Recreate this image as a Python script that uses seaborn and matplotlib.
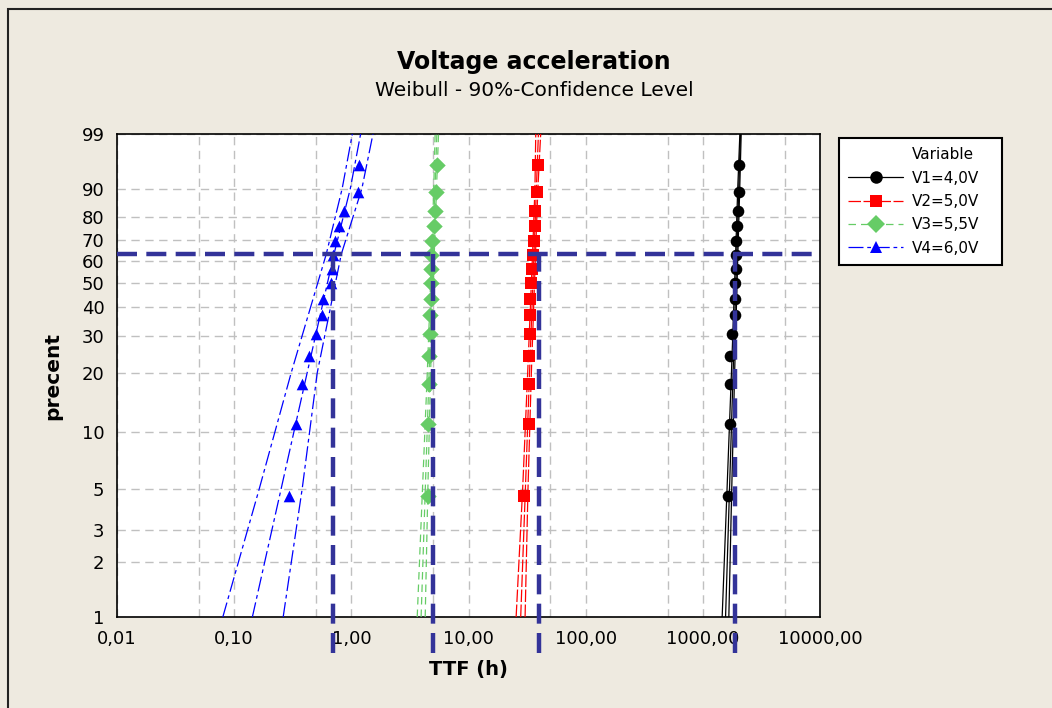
"""
Voltage acceleration - Weibull probability plot (90% confidence bands)
"""

import numpy as np
import matplotlib

matplotlib.use("Agg")
import matplotlib.pyplot as plt
import seaborn as sns
from matplotlib.lines import Line2D
from matplotlib.patches import Rectangle
from matplotlib.ticker import FixedLocator, FixedFormatter, NullLocator

# median ranks (percent) of the 15 failures per voltage
ranks = [4.55, 11.04, 17.53, 24.03, 30.52, 37.01, 43.51, 50.0,
         56.49, 62.99, 69.48, 75.97, 82.47, 88.96, 95.45]

# time to failure (h)
v1_ttf = [1643, 1699, 1705, 1712, 1757, 1874, 1893, 1900, 1907, 1915, 1922, 1961, 2007, 2027, 2047]
v2_ttf = [29.5, 32.9, 33.0, 33.1, 33.2, 33.4, 33.7, 34.3, 35.1, 35.2, 36.3, 36.7, 37.0, 38.1, 39.1]
v3_ttf = [4.49, 4.53, 4.61, 4.64, 4.67, 4.73, 4.75, 4.76, 4.78, 4.80, 4.85, 5.06, 5.21, 5.26, 5.40]
v4_ttf = [0.296, 0.337, 0.380, 0.438, 0.499, 0.561, 0.576, 0.665, 0.680, 0.693, 0.720, 0.785, 0.865, 1.13, 1.17]

# fitted line and 90% confidence bounds at these percent levels
band_pct = [1, 5, 20, 63.2, 90, 99]
v1_fit = [1563, 1690, 1813, 1948, 2027, 2096]
v1_lo = [1462, 1610, 1755, 1905, 1985, 2070]
v1_hi = [1667, 1765, 1868, 1990, 2065, 2125]
v2_fit = [27.9, 30.6, 33.2, 36.2, 37.96, 39.5]
v2_lo = [25.5, 29.0, 32.0, 35.2, 36.9, 37.5]
v2_hi = [30.4, 32.2, 34.4, 37.3, 39.1, 41.3]
v3_fit = [3.94, 4.28, 4.61, 4.97, 5.18, 5.37]
v3_lo = [3.65, 4.05, 4.45, 4.85, 5.05, 5.19]
v3_hi = [4.27, 4.50, 4.75, 5.10, 5.33, 5.55]
v4_fit = [0.143, 0.252, 0.42, 0.71, 0.98, 1.20]
v4_lo = [0.080, 0.164, 0.307, 0.61, 0.835, 1.02]
v4_hi = [0.262, 0.381, 0.512, 0.82, 1.23, 1.53]

# characteristic life markers (63.2 %)
ref_ttf = [1893, 39.6, 5.0, 0.70]
ref_pct = 63.2

labels = ["V1=4,0V", "V2=5,0V", "V3=5,5V", "V4=6,0V"]
colors = ["#000000", "#FF0000", "#66CC66", "#0000FF"]
markers = ["o", "s", "D", "^"]
styles = ["-", (0, (10, 2)), (0, (6, 4)), (0, (12, 3, 3, 3))]

x_ticks = [0.01, 0.1, 1, 10, 100, 1000, 10000]
x_labels = ["0,01", "0,10", "1,00", "10,00", "100,00", "1000,00", "10000,00"]
x_minor = [0.05, 0.5, 5, 50, 500, 5000]
y_ticks = [1, 2, 3, 5, 10, 20, 30, 40, 50, 60, 70, 80, 90, 99]
y_labels = [str(t) for t in y_ticks]


def weib(p):
    p = np.clip(np.asarray(p, dtype=float), 1e-9, 100 - 1e-9)
    return np.log(-np.log(1 - p / 100))


def weib_inv(y):
    return 100 * (1 - np.exp(-np.exp(np.asarray(y, dtype=float))))


def main():
    bg = "#EEEAE0"
    sns.set_style("white")
    plt.rcParams["font.family"] = ["DejaVu Sans"]
    plt.rcParams["text.color"] = "black"
    plt.rcParams["axes.labelcolor"] = "black"
    plt.rcParams["xtick.color"] = "black"
    plt.rcParams["ytick.color"] = "black"

    fig = plt.figure(figsize=(10.52, 7.08), dpi=100, facecolor=bg)
    ax = fig.add_axes([117 / 1052, 1 - 617 / 708, 703 / 1052, 483 / 708])
    ax.set_facecolor("white")

    series = [
        (v1_ttf, v1_fit, v1_lo, v1_hi),
        (v2_ttf, v2_fit, v2_lo, v2_hi),
        (v3_ttf, v3_fit, v3_lo, v3_hi),
        (v4_ttf, v4_fit, v4_lo, v4_hi),
    ]
    for (pts, fit, lo, hi), c, m, ls in zip(series, colors, markers, styles):
        for line in (lo, fit, hi):
            sns.lineplot(x=line, y=band_pct, sort=False, estimator=None,
                         color=c, linestyle=ls, linewidth=0.9, ax=ax, zorder=3)
        sns.scatterplot(x=pts, y=ranks, marker=m, s=70, color=c,
                        edgecolor=c, linewidth=0, ax=ax, zorder=4)

    ax.set_xscale("log")
    ax.set_yscale("function", functions=(weib, weib_inv))
    ax.set_xlim(0.01, 10000)
    ax.set_ylim(1, 99)

    # reference lines at the characteristic life
    ref_col = "#333399"
    ref_ls = (0, (4.5, 2.1))
    frac = (weib(ref_pct) - weib(1)) / (weib(99) - weib(1))
    ax.axhline(ref_pct, color=ref_col, lw=3.2, ls=ref_ls, zorder=6)
    for v in ref_ttf:
        ax.axvline(v, ymin=-0.075, ymax=frac, color=ref_col, lw=3.2,
                   ls=ref_ls, clip_on=False, zorder=6)

    ax.xaxis.set_major_locator(FixedLocator(x_ticks))
    ax.xaxis.set_major_formatter(FixedFormatter(x_labels))
    ax.xaxis.set_minor_locator(FixedLocator(x_minor))
    ax.yaxis.set_major_locator(FixedLocator(y_ticks))
    ax.yaxis.set_major_formatter(FixedFormatter(y_labels))
    ax.yaxis.set_minor_locator(NullLocator())

    ax.set_axisbelow(True)
    grid_kw = dict(color="#C0C0C0", linestyle=(0, (6, 4)), linewidth=1.0)
    ax.grid(True, which="both", axis="x", **grid_kw)
    ax.grid(True, which="major", axis="y", **grid_kw)

    ax.tick_params(axis="both", which="major", direction="out", length=6,
                   width=1.1, color="black", labelcolor="black",
                   labelsize=13, pad=3)
    ax.tick_params(axis="x", which="minor", length=0)
    for sp in ax.spines.values():
        sp.set_color("black")
        sp.set_linewidth(1.2)

    ax.set_xlabel("TTF (h)", fontsize=14, fontweight="bold", color="black")
    ax.xaxis.set_label_coords(0.5, -0.09)
    ax.set_ylabel("precent", fontsize=14.5, fontweight="bold", color="black")
    ax.yaxis.set_label_coords(-0.078, 0.5)

    fig.text(534 / 1052, 1 - 69 / 708, "Voltage acceleration", ha="center",
             va="baseline", fontsize=17, fontweight="bold", color="black")
    fig.text(534 / 1052, 1 - 96.5 / 708, "Weibull - 90%-Confidence Level",
             ha="center", va="baseline", fontsize=14.5, color="black")

    # legend
    handles = [Line2D([], [], color="none")]
    names = ["Variable"]
    for lab, c, m, ls in zip(labels, colors, markers, styles):
        handles.append(Line2D([], [], color=c, lw=0.9, ls=ls, marker=m,
                              markersize=9, markeredgewidth=0))
        names.append(lab)
    leg = fig.legend(handles, names, loc="upper left",
                     bbox_to_anchor=(839 / 1052, 1 - 264 / 708,
                                     163 / 1052, 126 / 708),
                     mode="expand", frameon=True, fancybox=False,
                     edgecolor="black", framealpha=1, borderaxespad=0,
                     handlelength=3.6, handletextpad=0.6, labelspacing=0.55,
                     borderpad=0.6, fontsize=11, numpoints=1)
    leg.get_frame().set_linewidth(1.5)
    leg.get_frame().set_facecolor("white")
    for t in leg.get_texts():
        t.set_color("black")

    # outer frame of the graph window
    fig.add_artist(Rectangle((8 / 1052, -0.1), 1.2, 1 - 9 / 708 + 0.1,
                             transform=fig.transFigure, fill=False,
                             edgecolor="#222222", linewidth=1.5))

    fig.savefig("out.png", dpi=100, facecolor=bg)


if __name__ == "__main__":
    main()
